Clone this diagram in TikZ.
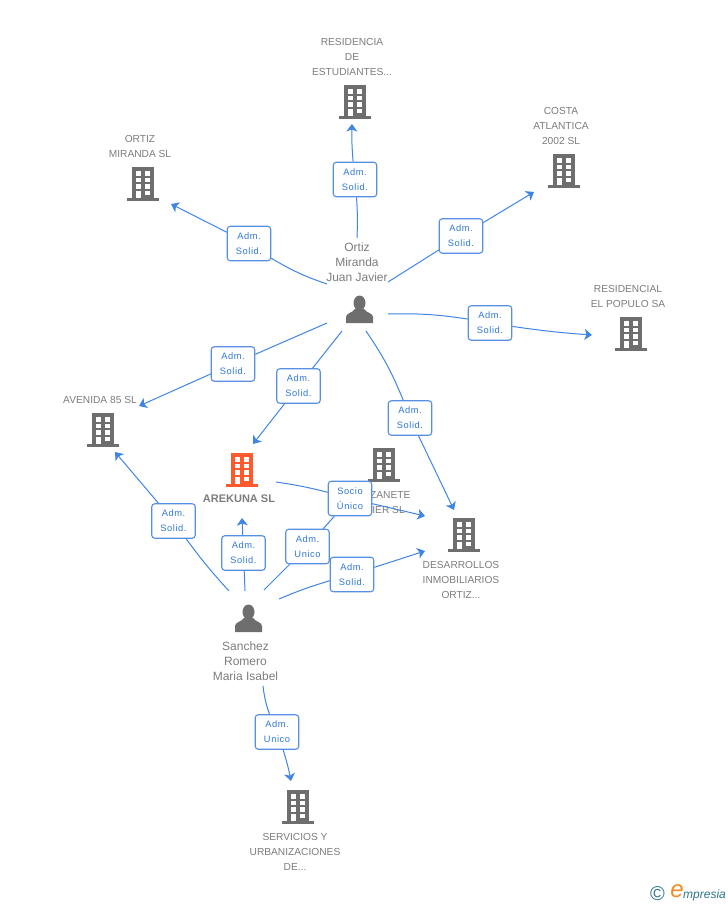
\documentclass[tikz,border=0pt]{standalone}
\usepackage{fontspec}
\setmainfont{Liberation Sans}
\newfontfamily\boxfont[LetterSpace=6]{Liberation Sans}
\usetikzlibrary{arrows.meta}
\definecolor{linkblue}{HTML}{3F85E3}
\definecolor{boxblue}{HTML}{5590E2}
\definecolor{textblue}{HTML}{2F78DC}
\definecolor{grayicon}{HTML}{6E6E6E}
\definecolor{graytext}{HTML}{7C7C7C}
\definecolor{orangeicon}{HTML}{FF5A2E}
\definecolor{logoteal}{HTML}{2F7486}
\definecolor{logoorange}{HTML}{F08A24}
\tikzset{
  link/.style={draw=linkblue,line width=1pt},
  arrowlink/.style={link,-{Stealth[length=7.5pt,width=11pt,inset=2pt]}},
  linkbox/.style={draw=boxblue,line width=1.1pt,fill=white,rounded corners=3pt,minimum width=43.5pt,minimum height=34.5pt,inner sep=0pt,align=center,text=textblue,font=\boxfont\fontsize{9.3}{15}\selectfont},
  caption/.style={align=center,inner sep=0pt,yshift=-0.7pt,text=graytext,font=\fontsize{10.2}{15}\selectfont},
  personcaption/.style={caption,font=\fontsize{12}{15}\selectfont},
  building/.pic={%
    \fill[pic actions] (-11.2,-17) rectangle (11.2,14);%
    \fill[pic actions] (-16,13.5) rectangle (16,16.5);%
    \foreach \ypos in {-12.7,-6.2,0.3} {%
      \fill[white] (-7.4,\ypos) rectangle ++(5,4.5);%
      \fill[white] (2.4,\ypos) rectangle ++(5,4.5);%
    }%
    \fill[white] (-7.4,6.7) rectangle (-2.4,14);%
    \fill[white] (2.4,6.7) rectangle ++(5,4.5);%
  },
  person/.pic={%
    \fill[grayicon] (0,-7) ellipse (6 and 7.5);%
    \fill[grayicon] (-13.5,13) -- (-13.5,7) .. controls (-13.5,3) and (-7,3) .. (-4.5,-1) -- (4.5,-1) .. controls (7,3) and (13.5,3) .. (13.5,7) -- (13.5,13) -- cycle;%
  }
}
\begin{document}
\begin{tikzpicture}[x=1pt,y=-1pt]%
\useasboundingbox (0,0) rectangle (728,905);%
%
% companies
\pic[grayicon] at (355,102) {building};%
\node[caption] (residencia) at (352,56) {RESIDENCIA\\DE\\ESTUDIANTES...};%
\pic[grayicon] at (143,184) {building};%
\node[caption] (ortizsl) at (140,146) {ORTIZ\\MIRANDA SL};%
\pic[grayicon] at (564,171) {building};%
\node[caption] (costa) at (561,125) {COSTA\\ATLANTICA\\2002 SL};%
\pic[grayicon] at (631,334) {building};%
\node[caption] (populo) at (628,296) {RESIDENCIAL\\EL POPULO SA};%
\pic[grayicon] at (103,430) {building};%
\node[caption] (avenida) at (100,399) {AVENIDA 85 SL};%
\pic[orangeicon] at (242,470) {building};%
\node[caption,font=\fontsize{11}{15}\selectfont\bfseries] (arekuna) at (239,498) {AREKUNA SL};%
\pic[grayicon] at (384,465) {building};%
\node[caption] (lizanete) at (386,502) {LIZANETE\\JIER SL};%
\pic[grayicon] at (464,535) {building};%
\node[caption] (desarrollos) at (461,579) {DESARROLLOS\\INMOBILIARIOS\\ORTIZ...};%
\pic[grayicon] at (298,807) {building};%
\node[caption] (servicios) at (295,851) {SERVICIOS Y\\URBANIZACIONES\\DE...};%
%
% persons
\pic at (359.5,310) {person};%
\node[personcaption] (ortiz) at (357,262) {Ortiz\\Miranda\\Juan Javier};%
\pic at (248.5,619) {person};%
\node[personcaption] (sanchez) at (245.5,661) {Sanchez\\Romero\\Maria Isabel};%
%
% link ends
\coordinate (ortizTop) at (357,238);%
\coordinate (ortizLeft) at (327,284);%
\coordinate (ortizRight) at (388,282);%
\coordinate (ortizEast) at (388,314);%
\coordinate (ortizWest) at (327,323);%
\coordinate (ortizSouth) at (342,331);%
\coordinate (ortizDown) at (366,331);%
\coordinate (sanchezA) at (229,591);%
\coordinate (sanchezB) at (245,591);%
\coordinate (sanchezC) at (264,590);%
\coordinate (sanchezD) at (279,599);%
\coordinate (sanchezDown) at (263,686);%
\coordinate (arekunaOut) at (276,482);%
\coordinate (toResidencia) at (352,124);%
\coordinate (toOrtiz) at (171,204);%
\coordinate (toCosta) at (534,192);%
\coordinate (toPopulo) at (592,335);%
\coordinate (toAvenidaA) at (139,406);%
\coordinate (toArekunaA) at (253,444);%
\coordinate (toDesarrollosA) at (454,510);%
\coordinate (toAvenidaB) at (115,452);%
\coordinate (toArekunaB) at (242,518);%
\coordinate (toDesarrollosB) at (425,516);%
\coordinate (toDesarrollosC) at (425,551);%
\coordinate (toServicios) at (291,781);%
%
% link labels
\node[linkbox] (adm1) at (355,179.5) {Adm.\\Solid.};%
\node[linkbox] (adm2) at (249,243.5) {Adm.\\Solid.};%
\node[linkbox] (adm3) at (461,236) {Adm.\\Solid.};%
\node[linkbox] (adm4) at (490,323) {Adm.\\Solid.};%
\node[linkbox] (adm5) at (233,364) {Adm.\\Solid.};%
\node[linkbox] (adm6) at (298.5,386) {Adm.\\Solid.};%
\node[linkbox] (adm7) at (410,418) {Adm.\\Solid.};%
\node[linkbox] (adm8) at (173.5,521) {Adm.\\Solid.};%
\node[linkbox] (adm9) at (243.5,553) {Adm.\\Solid.};%
\node[linkbox] (adm10) at (307.5,546.5) {Adm.\\Unico};%
\node[linkbox] (socio) at (350,498.5) {Socio\\Único};%
\node[linkbox] (adm12) at (352,574.5) {Adm.\\Solid.};%
\node[linkbox] (adm13) at (277,732) {Adm.\\Unico};%
%
% links
\draw[link] (ortizTop) to[bend right=3] (adm1);%
\draw[arrowlink] (adm1) to[bend left=3] (toResidencia);%
\draw[link] (ortizLeft) to[bend left=6] (adm2);%
\draw[arrowlink] (adm2) to (toOrtiz);%
\draw[link] (ortizRight) to (adm3);%
\draw[arrowlink] (adm3) to (toCosta);%
\draw[link] (ortizEast) to[bend left=5] (adm4);%
\draw[arrowlink] (adm4) to[bend right=2] (toPopulo);%
\draw[link] (ortizWest) to (adm5);%
\draw[arrowlink] (adm5) to (toAvenidaA);%
\draw[link] (ortizSouth) to (adm6);%
\draw[arrowlink] (adm6) to (toArekunaA);%
\draw[link] (ortizDown) to[bend left=6] (adm7);%
\draw[arrowlink] (adm7) to (toDesarrollosA);%
\draw[link] (sanchezA) to[bend left=3] (adm8);%
\draw[arrowlink] (adm8) to (toAvenidaB);%
\draw[link] (sanchezB) to (adm9);%
\draw[arrowlink] (adm9) to (toArekunaB);%
\draw[link] (sanchezC) to (adm10);%
\draw[link] (adm10) to (socio);%
\draw[link] (arekunaOut) to[bend left=3] (socio);%
\draw[arrowlink] (socio) to (toDesarrollosB);%
\draw[link] (sanchezD) to[bend left=3] (adm12);%
\draw[arrowlink] (adm12) to (toDesarrollosC);%
\draw[link] (sanchezDown) to[bend right=6] (adm13);%
\draw[arrowlink] (adm13) to[bend left=3] (toServicios);%
%
% logo
\node[inner sep=0pt,text=logoteal,font=\fontsize{20}{20}\selectfont] (copyright) at (657.5,894) {©};%
\node[inner sep=0pt,text=logoorange,font=\itshape\fontsize{24}{24}\selectfont] (logoE) at (677,891) {e};%
\node[inner sep=0pt,anchor=base west,text=logoteal,font=\itshape\fontsize{12}{14}\selectfont] (logoName) at (683,898) {mpresia};%
\end{tikzpicture}
\end{document}
